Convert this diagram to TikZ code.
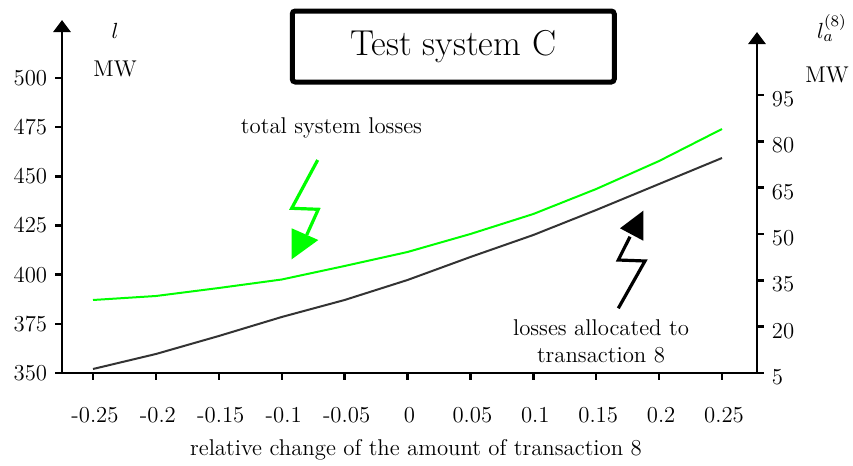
\documentclass[tikz,border=0pt]{standalone}
\usepackage{amsmath}
\usetikzlibrary{arrows.meta}

\begin{document}
\begin{tikzpicture}[x=0.5pt,y=-0.5pt,
    every node/.style={font=\fontsize{11.4}{13.5}\selectfont},
    axis/.style={line width=1.4pt,line join=miter,
        {Triangle[width=8.5pt,length=6pt]}-{Triangle[width=8.5pt,length=6pt]}},
    tick/.style={line width=1.2pt},
    lossline/.style={line width=1pt,green,line join=round},
    allocline/.style={line width=1pt,black!80,line join=round},
    bolt/.style={line width=1.6pt,line join=miter},
    titlebox/.style={draw,line width=2.5pt,rounded corners=1.5pt,
        minimum width=161pt,minimum height=35.5pt,
        font=\fontsize{18}{22}\selectfont},
    ]
    \useasboundingbox (0,0) rectangle (853,466);
    % axes
    \draw[axis] (62,20) -- (62,373) -- (757,373) -- (757,32);
    \foreach \v [count=\i from 0] in {350,375,...,500}
        \draw[tick] (62,373-49.17*\i) -- ++(-7,0) node[left] (yl\i) {\v};
    \foreach \v [count=\i from 0] in {5,20,...,95}
        \draw[tick] (757,373-46.33*\i) -- ++(7,0) node[right,yshift=-2pt] (yr\i) {\v};
    \foreach \v [count=\i from 0] in {-0.25,-0.2,-0.15,-0.1,-0.05,0,0.05,0.1,0.15,0.2,0.25}{
        \draw[tick] (93+62.9*\i,373) -- ++(0,7);
        \node (xl\i) at (95+62.9*\i,415) {\v};
    }
    \node (lleft) at (115,31) {$l$};
    \node (mwleft) at (115,68.5) {MW};
    \node (lright) at (832,28) {$l_a^{(8)}$};
    \node (mwright) at (827,75) {MW};
    \node (xlabel) at (416,450) {relative change of the amount of transaction 8};
    \node[titlebox] (title) at (453.25,46.5) {Test system C};
    % curves
    \draw[lossline] (93,300) -- (155.9,296) -- (218.8,288) -- (281.7,279.5) -- (344.6,266)
        -- (407.5,252) -- (470.4,234) -- (533.3,214) -- (596.2,189) -- (659.1,161) -- (722,129);
    \draw[allocline] (93,369) -- (155.9,354) -- (218.8,336) -- (281.7,317) -- (344.6,300)
        -- (407.5,280) -- (470.4,257) -- (533.3,235) -- (596.2,210) -- (659.1,184) -- (722,158);
    % labels with bolts
    \node (total) at (331.5,128) {total system losses};
    \node[align=center] (alloc) at (601,341) {losses allocated to\\transaction 8};
    \draw[bolt,green] (317.7,160) -- (291.7,208.3) -- (318.3,209.3) -- (306.7,235);
    \fill[green] (291.7,228.3) -- (291.7,259.3) -- (318.3,240) -- cycle;
    \draw[bolt] (618.3,308.3) -- (645,261) -- (618.3,260) -- (630,236.7);
    \fill (620,228.3) -- (643.3,210.7) -- (643.3,240.7) -- cycle;
\end{tikzpicture}
\end{document}
